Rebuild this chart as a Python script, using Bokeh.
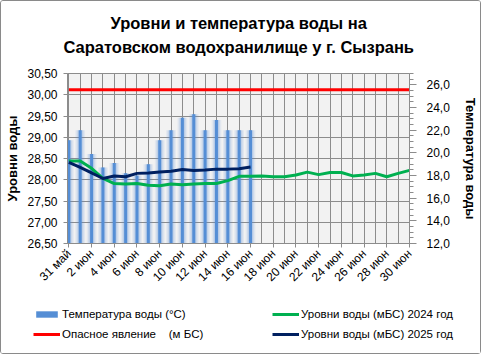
import math
from bokeh.plotting import figure
from bokeh.layouts import column
from bokeh.core.properties import value
from bokeh.models import (Range1d, LinearAxis, FixedTicker, SingleIntervalTicker,
                          CustomJSTickFormatter, Legend, LegendItem)
from bokeh.embed import file_html
from bokeh.resources import INLINE

# ---------------- data ----------------
days = list(range(31))
day_labels = ["31 май"] + [f"{d} июн" for d in range(1, 31)]

temp_days = list(range(17))
temp = [21.1, 22.0, 19.9, 18.7, 19.1, 18.2, 18.0, 19.0, 21.1, 22.0,
        23.1, 23.4, 22.0, 22.9, 22.0, 22.0, 22.0]

lvl_2025_days = list(range(17))
lvl_2025 = [28.41, 28.29, 28.16, 28.03, 28.09, 28.07, 28.15, 28.16, 28.18, 28.20,
            28.24, 28.22, 28.23, 28.25, 28.25, 28.26, 28.30]

lvl_2024 = [28.44, 28.44, 28.27, 28.03, 27.91, 27.90, 27.91, 27.87, 27.86, 27.90,
            27.88, 27.90, 27.91, 27.91, 27.98, 28.08, 28.08, 28.09, 28.07, 28.07,
            28.11, 28.18, 28.12, 28.17, 28.17, 28.09, 28.11, 28.15, 28.07, 28.15,
            28.22]

danger_days = [0, 30]
danger = [30.12, 30.12]

title_lines = ["Уровни и температура  воды на",
               "Саратовском водохранилище у  г. Сызрань"]
legend_labels = ["Температура воды (°C)", "Опасное явление    (м БС)",
                 "Уровни воды (мБС) 2024 год", "Уровни воды (мБС) 2025 год"]

FONT = "Liberation Sans"
BLUE = "#558ED5"
RED = "#FF0000"
GREEN = "#00B050"
NAVY = "#002060"
GRID = "#8C8C8C"
W = 479


def no_align(fig):
    try:
        fig.frame_align = False
    except Exception:
        pass


# ---------------- title strip ----------------
TH = 58
t = figure(width=W, height=TH, x_range=Range1d(0, W), y_range=Range1d(0, TH),
           output_backend="svg", toolbar_location=None, min_border=0)
t.axis.visible = False
t.grid.visible = False
t.outline_line_color = None
t.background_fill_color = "white"
t.border_fill_color = "white"
t.text(x=[W / 2, W / 2], y=[TH - 21, TH - 45], text=title_lines,
       text_font=value(FONT), text_font_size="16.5px", text_font_style="bold",
       text_color="black", text_align="center", text_baseline="middle")
no_align(t)

# ---------------- main chart ----------------
p = figure(width=W, height=234, x_range=Range1d(-0.12, 30.0),
           y_range=Range1d(26.5, 30.5), output_backend="svg",
           toolbar_location=None, min_border_left=66, min_border_right=70,
           min_border_top=14, min_border_bottom=50)
no_align(p)

p.background_fill_color = "#F2F2F2"
p.border_fill_color = "white"
p.outline_line_color = GRID

p.extra_y_ranges = {"t": Range1d(12, 27)}

p.xgrid.ticker = FixedTicker(ticks=days)
p.xgrid.grid_line_color = GRID
p.ygrid.grid_line_color = GRID

xa = p.xaxis[0]
xa.ticker = FixedTicker(ticks=list(range(0, 31, 2)))
xa.major_label_overrides = {i: day_labels[i] for i in range(0, 31, 2)}
xa.major_label_orientation = math.pi / 4
xa.major_label_text_font = FONT
xa.major_label_text_font_size = "12px"
xa.major_label_text_color = "black"
xa.axis_line_color = GRID
xa.major_tick_line_color = GRID
xa.major_tick_out = 4
xa.major_tick_in = 0
xa.minor_tick_line_color = None
xa.major_label_standoff = 4

ya = p.yaxis[0]
ya.ticker = SingleIntervalTicker(interval=0.5, num_minor_ticks=0)
ya.formatter = CustomJSTickFormatter(code="return tick.toFixed(2).replace('.', ',');")
ya.axis_label = "Уровни воды"
ya.axis_label_text_font = FONT
ya.axis_label_text_font_size = "13px"
ya.axis_label_text_font_style = "bold"
ya.axis_label_text_color = "black"
ya.axis_label_standoff = 4
ya.major_label_text_font = FONT
ya.major_label_text_font_size = "12px"
ya.major_label_text_color = "black"
ya.axis_line_color = GRID
ya.major_tick_line_color = GRID
ya.major_tick_out = 4
ya.major_tick_in = 0
ya.minor_tick_line_color = None
ya.major_label_standoff = 6

ra = LinearAxis(y_range_name="t",
                ticker=SingleIntervalTicker(interval=2, num_minor_ticks=4),
                formatter=CustomJSTickFormatter(code="return tick.toFixed(1).replace('.', ',');"))
ra.axis_label = "Температура воды"
ra.axis_label_orientation = "vertical"
ra.axis_label_text_font = FONT
ra.axis_label_text_font_size = "13px"
ra.axis_label_text_font_style = "bold"
ra.axis_label_text_color = "black"
ra.axis_label_standoff = 10
ra.major_label_text_font = FONT
ra.major_label_text_font_size = "12px"
ra.major_label_text_color = "black"
ra.axis_line_color = GRID
ra.major_tick_line_color = GRID
ra.minor_tick_line_color = GRID
ra.major_tick_out = 7
ra.major_tick_in = 0
ra.minor_tick_out = 4
ra.minor_tick_in = 0
ra.major_label_standoff = 10
p.add_layout(ra, "right")

for w, a in [(0.85, 0.10), (0.62, 0.14), (0.42, 0.2)]:
    p.vbar(x=temp_days, top=temp, bottom=12, width=w, y_range_name="t",
           fill_color=BLUE, fill_alpha=a, line_color=None)
p.vbar(x=temp_days, top=temp, bottom=12, width=0.26, y_range_name="t",
       fill_color=BLUE, line_color=None)

p.line(danger_days, danger, line_color=RED, line_width=3)
p.line(days, lvl_2024, line_color=GREEN, line_width=3)
p.line(lvl_2025_days, lvl_2025, line_color=NAVY, line_width=3)

# ---------------- legend strip ----------------
QH = 60
q = figure(width=W, height=QH, x_range=Range1d(0, 1), y_range=Range1d(0, 1),
           output_backend="svg", toolbar_location=None, min_border=0)
q.axis.visible = False
q.grid.visible = False
q.outline_line_color = None
q.background_fill_color = "white"
q.border_fill_color = "white"
no_align(q)

g_temp = q.vbar(x=[-5], top=[-5], bottom=-6, width=0.1, fill_color=BLUE, line_color=None)
g_danger = q.line([-5, -4], [-5, -5], line_color=RED, line_width=3)
g_2024 = q.line([-5, -4], [-5, -5], line_color=GREEN, line_width=3)
g_2025 = q.line([-5, -4], [-5, -5], line_color=NAVY, line_width=3)

legend = Legend(items=[
    LegendItem(label=legend_labels[0], renderers=[g_temp]),
    LegendItem(label=legend_labels[1], renderers=[g_danger]),
    LegendItem(label=legend_labels[2], renderers=[g_2024]),
    LegendItem(label=legend_labels[3], renderers=[g_2025]),
], nrows=2, orientation="vertical", location=(32, 13),
    glyph_width=27, glyph_height=8, label_standoff=2, spacing=8,
    label_width=202, padding=0, margin=0,
    border_line_color=None, background_fill_alpha=0,
    label_text_font=FONT, label_text_font_size="11.5px", label_text_color="black")
q.add_layout(legend, "center")

layout = column(t, p, q, spacing=0)
layout.styles = {"border": "1px solid #8a8a8a", "border-radius": "3px"}

open("out.html", "w").write(file_html(layout, INLINE))
